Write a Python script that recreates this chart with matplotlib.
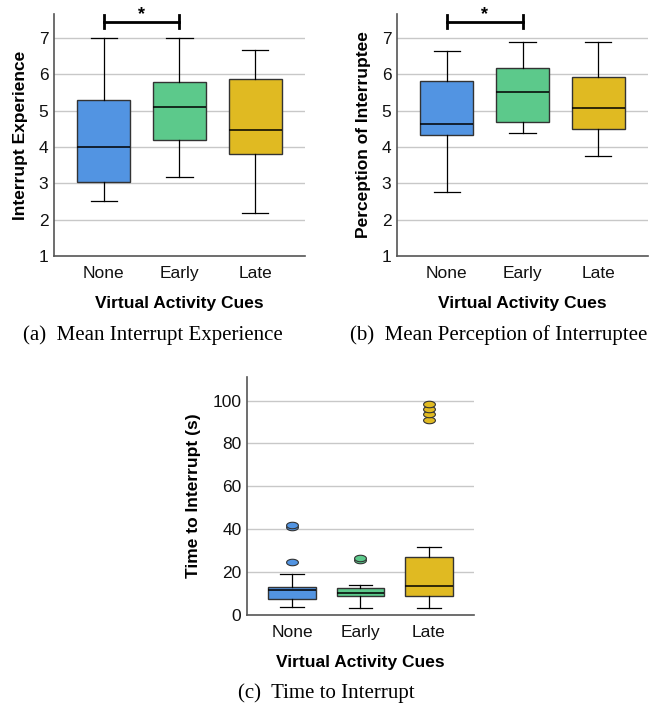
import numpy as np
import matplotlib
matplotlib.use("Agg")
import matplotlib.pyplot as plt
from matplotlib.path import Path

plt.rcParams['font.family'] = ['Liberation Sans', 'DejaVu Sans']

# categories and colours
cues = ['None', 'Early', 'Late']
colors = ['#5294e2', '#5cc98b', '#e0ba22']

# (a) mean interrupt experience: whislo, q1, med, q3, whishi
exp_lo = [2.5, 3.18, 2.18]
exp_q1 = [3.05, 4.18, 3.8]
exp_med = [4.0, 5.1, 4.47]
exp_q3 = [5.3, 5.8, 5.88]
exp_hi = [7.0, 7.0, 6.67]

# (b) mean perception of interruptee
per_lo = [2.75, 4.38, 3.75]
per_q1 = [4.32, 4.7, 4.5]
per_med = [4.63, 5.5, 5.07]
per_q3 = [5.82, 6.18, 5.93]
per_hi = [6.63, 6.88, 6.88]

# (c) time to interrupt (s)
tti_lo = [3.9, 3.3, 3.4]
tti_q1 = [7.3, 8.9, 8.9]
tti_med = [11.7, 10.4, 13.4]
tti_q3 = [13.2, 12.8, 26.9]
tti_hi = [19.0, 14.2, 31.8]
tti_out = [[24.9, 41.0, 42.2], [25.7, 26.8], [91.1, 93.8, 96.3, 98.6]]

# ellipse marker for outliers (SPSS look)
t = np.linspace(0, 2 * np.pi, 60)
ellipse = Path(np.column_stack([np.cos(t), 0.55 * np.sin(t)]), closed=True)

fig = plt.figure(figsize=(6.62, 7.08), dpi=100)
W, H = 662.0, 708.0
FS = 12.5


def make_ax(left, right, top, bottom):
    return fig.add_axes([left / W, 1 - bottom / H, (right - left) / W, (bottom - top) / H])


def draw_box(ax, lo, q1, med, q3, hi, out=None):
    stats = []
    for i in range(len(cues)):
        stats.append(dict(whislo=lo[i], q1=q1[i], med=med[i], q3=q3[i], whishi=hi[i],
                          fliers=out[i] if out else []))
    bp = ax.bxp(stats, positions=[1, 2, 3], widths=0.7, patch_artist=True,
                showfliers=out is not None,
                boxprops=dict(edgecolor='#333333', linewidth=1.0),
                medianprops=dict(color='black', linewidth=1.1),
                whiskerprops=dict(color='black', linewidth=0.9),
                capprops=dict(color='black', linewidth=0.9),
                capwidths=0.35)
    for i, b in enumerate(bp['boxes']):
        b.set_facecolor(colors[i])
        b.set_zorder(3)
    for i, f in enumerate(bp['fliers']):
        f.set(marker=ellipse, markersize=8.5, markerfacecolor=colors[i],
              markeredgecolor='#333333', markeredgewidth=0.8, zorder=4)
    for k in ['medians', 'whiskers', 'caps']:
        for l in bp[k]:
            l.set_zorder(4)


def style(ax, ylim, ticks, ylabel, grid_ticks):
    ax.set_xlim(0.34, 3.66)
    ax.set_ylim(*ylim)
    ax.set_yticks(ticks)
    ax.set_xticks([1, 2, 3])
    ax.set_xticklabels(cues)
    for g in grid_ticks:
        ax.axhline(g, color='#c8c8c8', linewidth=1.0, zorder=1)
    for s in ['top', 'right']:
        ax.spines[s].set_visible(False)
    for s in ['left', 'bottom']:
        ax.spines[s].set_color('#555555')
        ax.spines[s].set_linewidth(1.2)
    ax.tick_params(axis='both', length=0, labelsize=FS, colors='#111111')
    ax.tick_params(axis='x', pad=7)
    ax.tick_params(axis='y', pad=4)
    ax.set_xlabel('Virtual Activity Cues', fontsize=FS, fontweight='bold', labelpad=11)
    ax.set_ylabel(ylabel, fontsize=FS, fontweight='bold', labelpad=8)


def sig_bar(ax, y, dy):
    ax.plot([1, 2], [y, y], color='black', linewidth=2, clip_on=False)
    ax.plot([1, 1], [y - dy, y + dy], color='black', linewidth=2, clip_on=False)
    ax.plot([2, 2], [y - dy, y + dy], color='black', linewidth=2, clip_on=False)
    ax.text(1.5, y - 0.04, '*', ha='center', va='bottom', fontsize=13, fontweight='bold')


ax1 = make_ax(54, 305, 14, 256)
draw_box(ax1, exp_lo, exp_q1, exp_med, exp_q3, exp_hi)
style(ax1, (1, 7.66), range(1, 8), 'Interrupt Experience', range(2, 8))
sig_bar(ax1, 7.45, 0.18)

ax2 = make_ax(397, 648, 14, 256)
draw_box(ax2, per_lo, per_q1, per_med, per_q3, per_hi)
style(ax2, (1, 7.66), range(1, 8), 'Perception of Interruptee', range(2, 8))
sig_bar(ax2, 7.45, 0.18)

ax3 = make_ax(247, 474, 377, 615)
draw_box(ax3, tti_lo, tti_q1, tti_med, tti_q3, tti_hi, tti_out)
style(ax3, (0, 111), range(0, 101, 20), 'Time to Interrupt (s)', range(20, 101, 20))

cap_font = dict(family=['Liberation Serif', 'DejaVu Serif'], fontsize=15, ha='center', va='center')
fig.text(153 / W, 1 - 335 / H, '(a)  Mean Interrupt Experience', **cap_font)
fig.text(499 / W, 1 - 335 / H, '(b)  Mean Perception of Interruptee', **cap_font)
fig.text(326 / W, 1 - 693 / H, '(c)  Time to Interrupt', **cap_font)

fig.savefig('out.png', dpi=100)
